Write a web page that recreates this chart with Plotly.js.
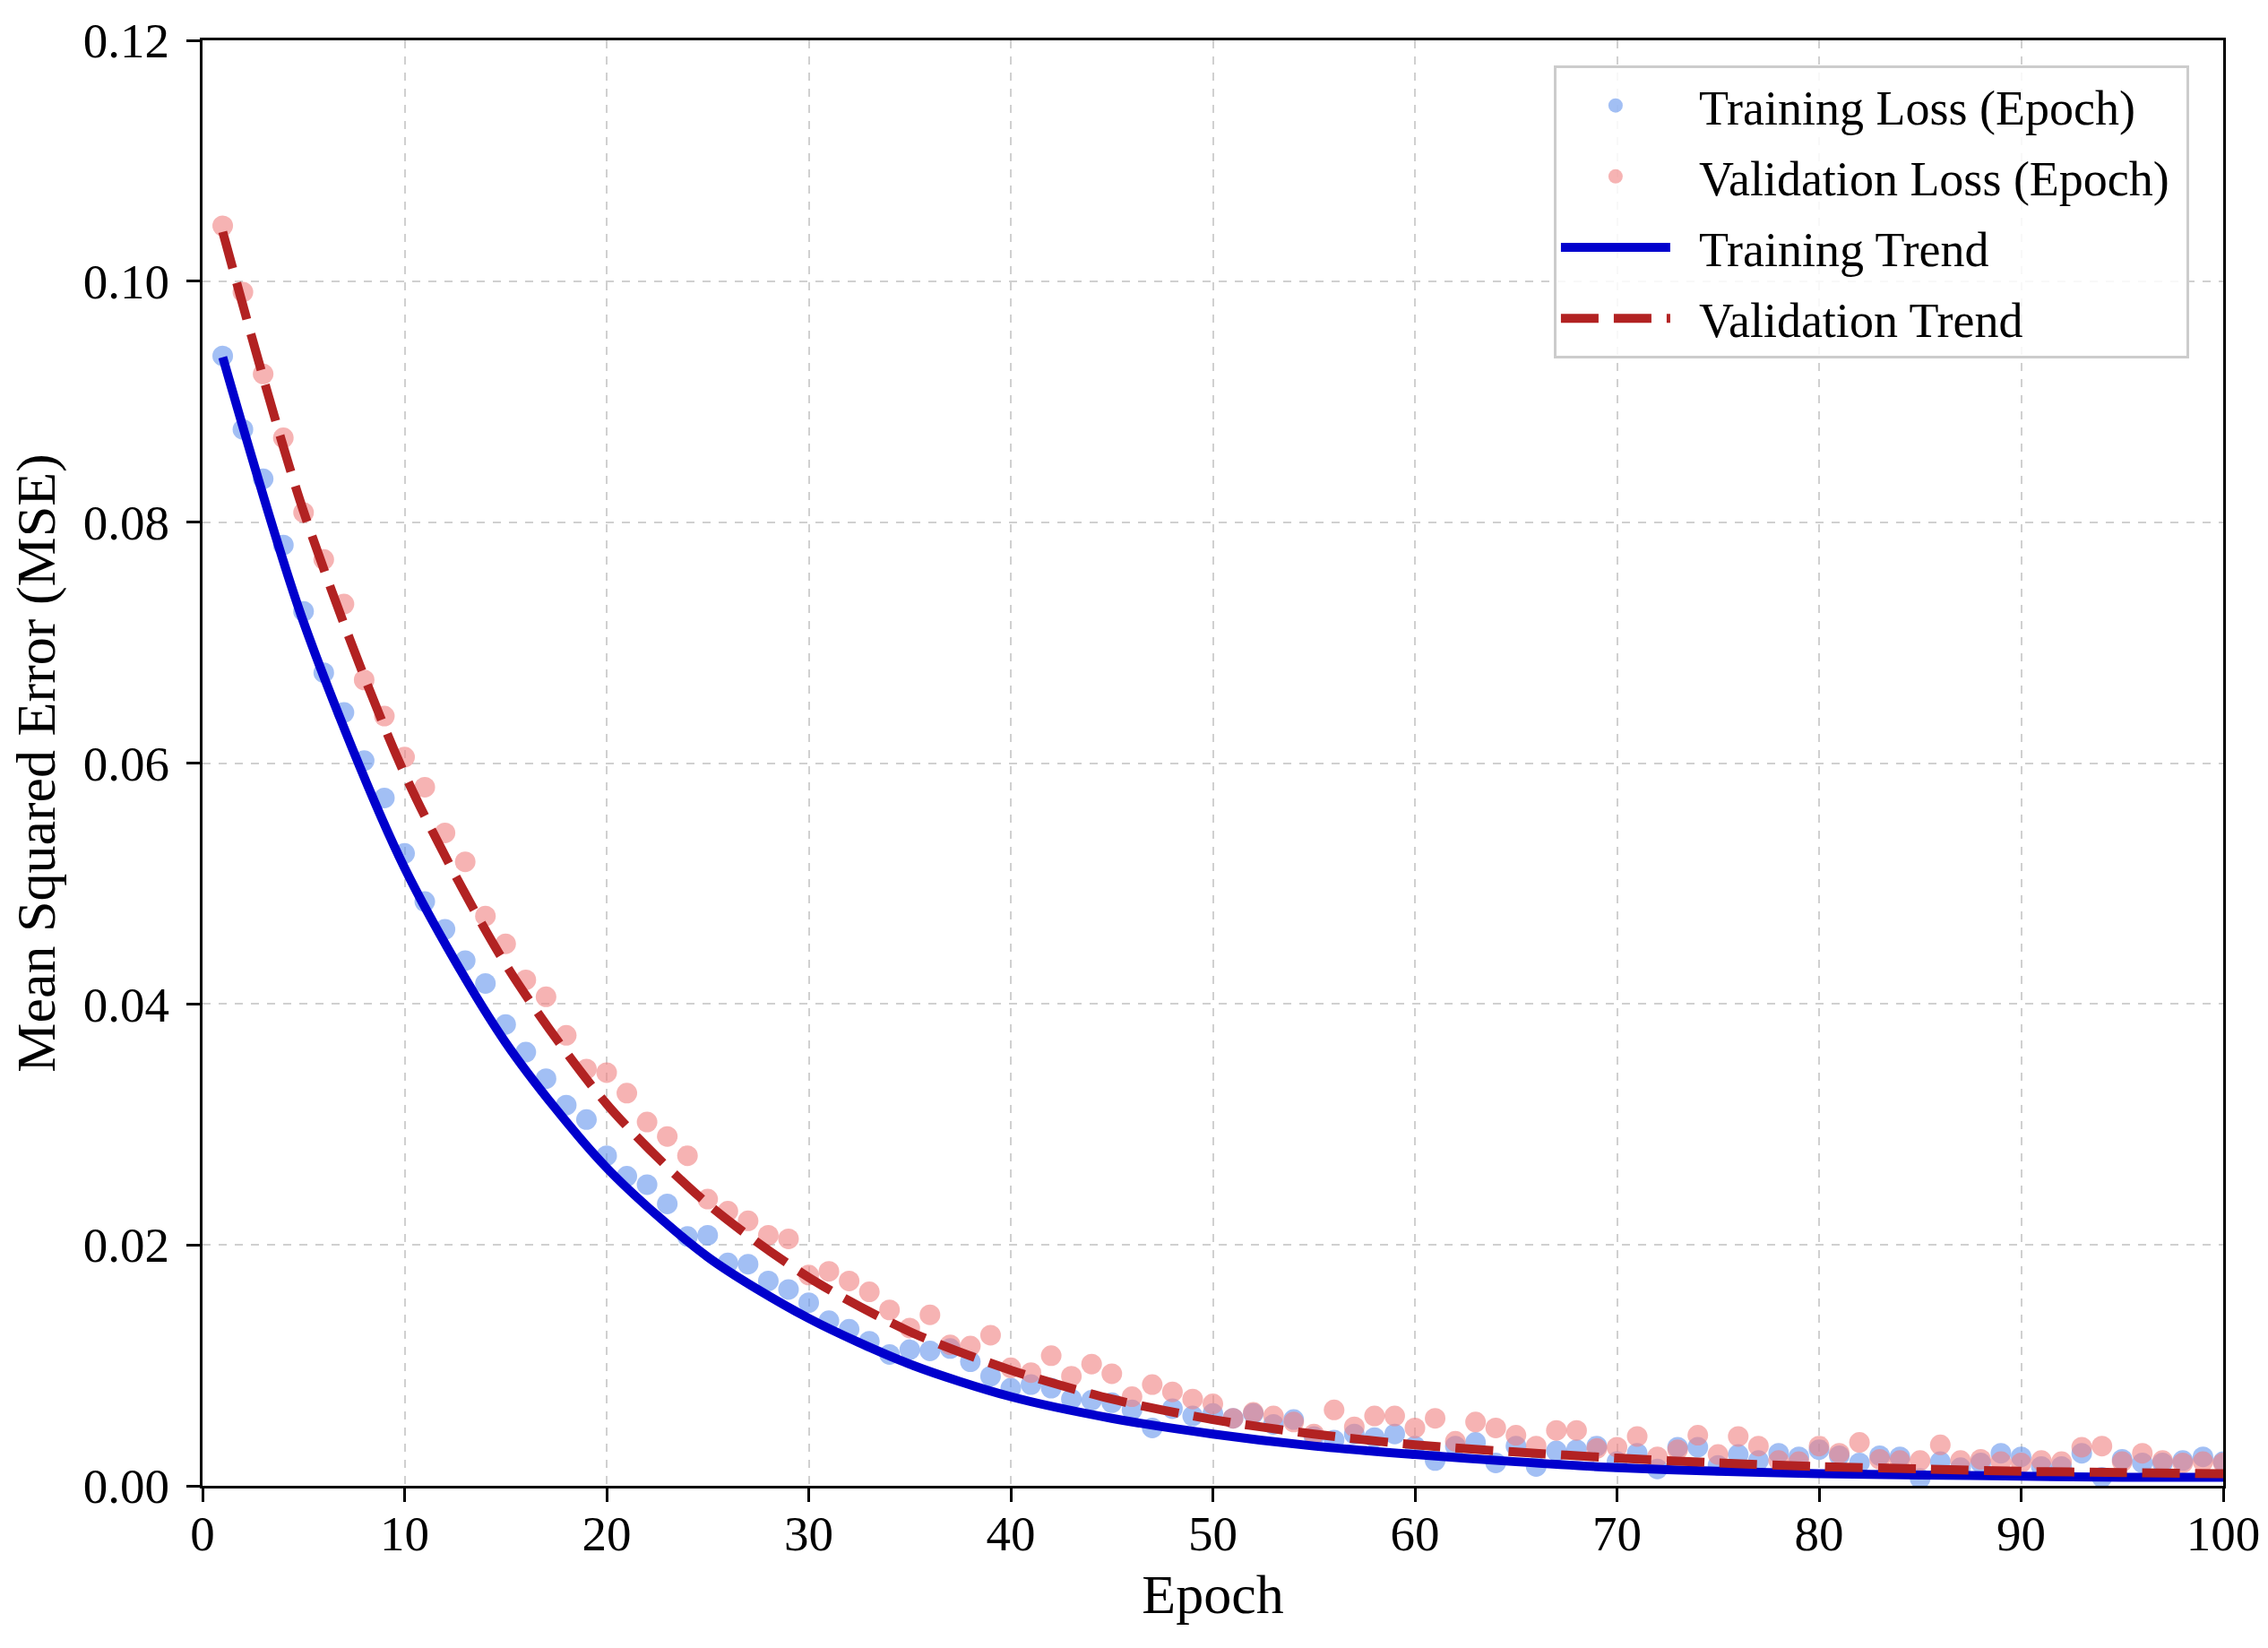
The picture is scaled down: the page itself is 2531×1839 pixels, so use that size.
<!DOCTYPE html>
<html>
<head>
<meta charset="utf-8">
<script src="https://cdn.plot.ly/plotly-3.0.1.min.js"></script>
<style>html,body{margin:0;padding:0;background:#fff;}#chart{width:2531px;height:1839px;}</style>
</head>
<body>
<div id="chart"></div>
<script>
// Epochs 1..100
const epochs = [];
for (let i = 1; i <= 100; i++) epochs.push(i);

const trainingLoss = [
  0.0938,0.0877,0.0836,0.0781,0.0726,0.0675,0.0642,0.0602,0.0571,0.0525,
  0.0485,0.0462,0.0436,0.0417,0.0383,0.0360,0.0338,0.0316,0.0304,0.0274,
  0.0257,0.0250,0.0234,0.0207,0.0208,0.0185,0.0184,0.0170,0.0163,0.0152,
  0.0137,0.0130,0.0120,0.0109,0.0113,0.0112,0.0114,0.0103,0.0091,0.0081,
  0.0084,0.0081,0.0072,0.0071,0.0069,0.0063,0.0048,0.0064,0.0058,0.0060,
  0.0056,0.0060,0.0051,0.0055,0.0041,0.0038,0.0043,0.0040,0.0043,0.0033,
  0.0021,0.0033,0.0036,0.0019,0.0033,0.0016,0.0029,0.0030,0.0033,0.0020,
  0.0027,0.0014,0.0032,0.0032,0.0017,0.0026,0.0021,0.0027,0.0024,0.0030,
  0.0025,0.0019,0.0025,0.0024,0.0006,0.0020,0.0015,0.0019,0.0027,0.0024,
  0.0016,0.0016,0.0027,0.0007,0.0022,0.0019,0.0019,0.0021,0.0024,0.0020
];

const validationLoss = [
  0.1046,0.0991,0.0923,0.0870,0.0808,0.0769,0.0732,0.0669,0.0639,0.0605,
  0.0580,0.0542,0.0518,0.0473,0.0450,0.0420,0.0406,0.0374,0.0346,0.0343,
  0.0326,0.0302,0.0290,0.0274,0.0238,0.0228,0.0220,0.0208,0.0205,0.0175,
  0.0178,0.0170,0.0161,0.0146,0.0131,0.0142,0.0117,0.0116,0.0125,0.0098,
  0.0094,0.0108,0.0091,0.0101,0.0093,0.0074,0.0084,0.0078,0.0072,0.0068,
  0.0056,0.0061,0.0058,0.0053,0.0043,0.0063,0.0049,0.0058,0.0058,0.0048,
  0.0056,0.0037,0.0053,0.0048,0.0042,0.0033,0.0046,0.0046,0.0031,0.0032,
  0.0041,0.0024,0.0030,0.0042,0.0026,0.0041,0.0033,0.0021,0.0020,0.0033,
  0.0027,0.0036,0.0022,0.0021,0.0021,0.0034,0.0021,0.0022,0.0020,0.0019,
  0.0021,0.0020,0.0032,0.0033,0.0020,0.0027,0.0021,0.0019,0.0020,0.0019
];

// Trend curves read at selected epochs
const trendEpochs = [1,5,10,15,20,25,30,35,40,45,50,55,60,65,70,75,80,85,90,95,100];
const trainingTrend = [0.0937,0.0717,0.0513,0.0368,0.0264,0.0190,0.0139,0.0101,0.0074,0.0056,0.0043,0.0033,0.0026,0.0020,0.0015,0.0012,0.0010,0.0009,0.0008,0.0007,0.0007];
const validationTrend = [0.1041,0.0809,0.0591,0.0433,0.0317,0.0234,0.0173,0.0128,0.0096,0.0072,0.0055,0.0043,0.0034,0.0028,0.0023,0.0019,0.0016,0.0014,0.0012,0.0011,0.0010];

const seriesNames = ['Training Loss (Epoch)', 'Validation Loss (Epoch)', 'Training Trend', 'Validation Trend'];

const xTicks = [0,10,20,30,40,50,60,70,80,90,100];
const yTicks = [0,0.02,0.04,0.06,0.08,0.10,0.12];

const FONT = '"Liberation Serif", "Times New Roman", serif';
const PAD = '\u00A0\u00A0';

const traces = [
  {
    x: epochs, y: trainingLoss, type: 'scatter', mode: 'markers',
    name: PAD + seriesNames[0], legendgroup: 'g1',
    marker: {size: 23, color: 'rgba(100,149,237,0.6)', line: {width: 0}}
  },
  {
    x: epochs, y: validationLoss, type: 'scatter', mode: 'markers',
    name: PAD + seriesNames[1] + '\u00A0', legendgroup: 'g2',
    marker: {size: 23, color: 'rgba(240,128,128,0.6)', line: {width: 0}}
  },
  {
    x: trendEpochs, y: trainingTrend, type: 'scatter', mode: 'lines',
    name: PAD + seriesNames[2], legendgroup: 'g3',
    line: {color: '#0000CD', width: 10, shape: 'spline', smoothing: 0.8}
  },
  {
    x: trendEpochs, y: validationTrend, type: 'scatter', mode: 'lines',
    name: PAD + seriesNames[3], legendgroup: 'g4',
    line: {color: '#B22222', width: 10, dash: '42px,17px', shape: 'spline', smoothing: 0.8}
  }
];

const axisCommon = {
  showline: true, mirror: true, linecolor: '#000', linewidth: 3,
  ticks: 'outside', ticklen: 15, tickwidth: 3, tickcolor: '#000',
  showgrid: true, gridcolor: '#d0d0d0', gridwidth: 2, griddash: 'dash',
  zeroline: false,
  tickfont: {family: FONT, size: 55, color: '#000'}
};

const layout = {
  width: 2531, height: 1839,
  margin: {l: 226, r: 50, t: 45, b: 181},
  paper_bgcolor: '#fff', plot_bgcolor: '#fff',
  font: {family: FONT, color: '#000'},
  showlegend: true,
  legend: {
    x: 0.6687, y: 0.9826, xanchor: 'left', yanchor: 'top',
    bgcolor: 'rgba(255,255,255,0.85)', bordercolor: '#cccccc', borderwidth: 3,
    font: {family: FONT, size: 54, color: '#000'},
    itemwidth: 122, tracegroupgap: 6, traceorder: 'grouped'
  },
  xaxis: Object.assign({}, axisCommon, {
    range: [0, 100], tickvals: xTicks, ticktext: xTicks.map(String),
    ticklabelstandoff: -12,
    title: {text: 'Epoch', font: {family: FONT, size: 62, color: '#000'}, standoff: 16}
  }),
  yaxis: Object.assign({}, axisCommon, {
    range: [0, 0.12], tickvals: yTicks, ticktext: yTicks.map(v => v.toFixed(2)),
    ticklabelstandoff: 8,
    title: {text: 'Mean Squared Error (MSE)', font: {family: FONT, size: 62, color: '#000'}, standoff: 12}
  })
};

Plotly.newPlot('chart', traces, layout, {displayModeBar: false, staticPlot: true});
</script>
</body>
</html>
